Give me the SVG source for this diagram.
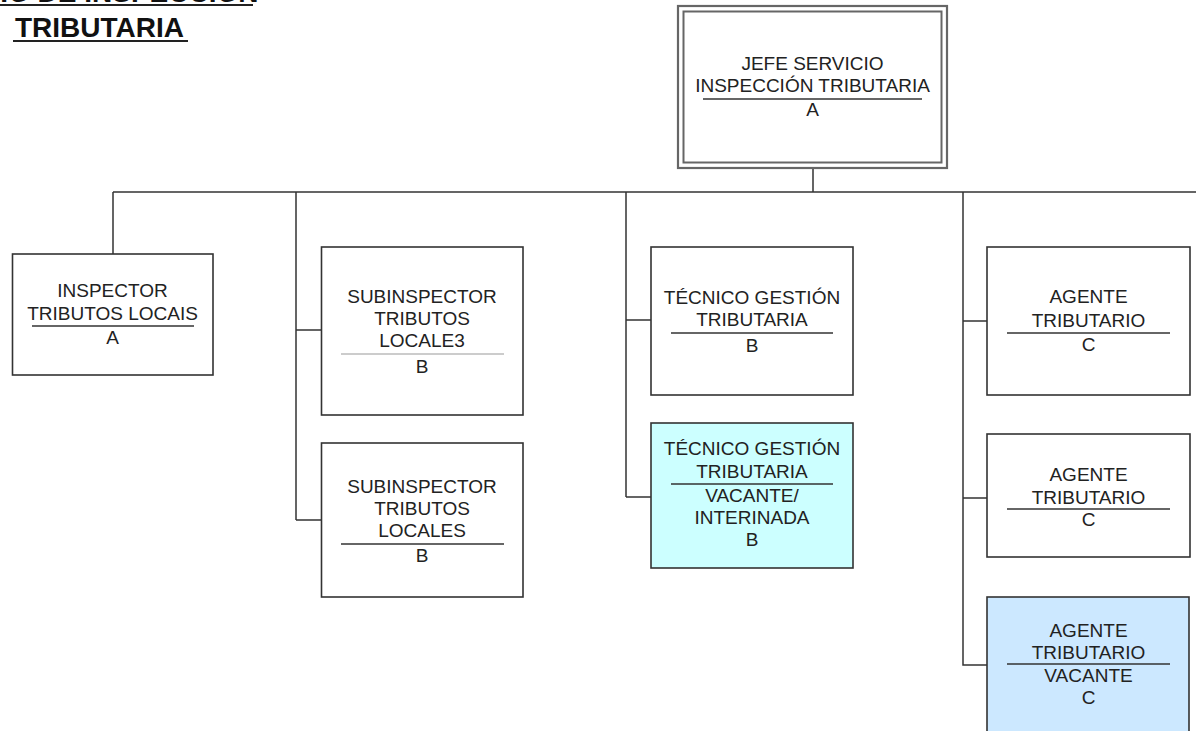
<svg xmlns="http://www.w3.org/2000/svg" width="1196" height="731" viewBox="0 0 1196 731">
<style>
.t{font-family:"Liberation Sans",Arial,sans-serif;font-size:19px;fill:#222;text-anchor:middle}
.title{font-family:"Liberation Sans",Arial,sans-serif;font-size:28px;font-weight:bold;fill:#111}
.box{fill:#fff;stroke:#333;stroke-width:1.6}
.ul{stroke:#333;stroke-width:1.6}
.conn{fill:none;stroke:#333;stroke-width:1.5}
</style>
<rect width="1196" height="731" fill="#fff"/>
<g id="title">
<text class="title" x="-20" y="2">CIO DE INSPECCIÓN</text>
<line x1="0" y1="5" x2="253" y2="5" stroke="#222" stroke-width="2"/>
<text class="title" x="15" y="37">TRIBUTARIA</text>
<line x1="13" y1="41" x2="188" y2="41" stroke="#222" stroke-width="2"/>
</g>
<g id="connectors">
<path class="conn" d="M813 168 V192 M113 192 H1196 M113 192 V254"/>
<path class="conn" d="M296 192 V520 M296 330 H321 M296 520 H321"/>
<path class="conn" d="M626 192 V497 M626 320 H651 M626 497 H651"/>
<path class="conn" d="M963 192 V665 H987 M963 321 H987 M963 498 H987"/>
</g>
<g id="jefe">
<rect x="678" y="6" width="269" height="162" fill="#fff" stroke="#666" stroke-width="2.2"/>
<rect x="683.5" y="11.5" width="258" height="151" fill="none" stroke="#666" stroke-width="2"/>
<text class="t" x="812.5" y="70">JEFE SERVICIO</text>
<text class="t" x="812.5" y="92">INSPECCIÓN TRIBUTARIA</text>
<line class="ul" x1="703" y1="99" x2="922" y2="99"/>
<text class="t" x="812.5" y="116">A</text>
</g>
<g id="inspector">
<rect class="box" x="12.5" y="254" width="200.5" height="121"/>
<text class="t" x="112.5" y="297">INSPECTOR</text>
<text class="t" x="112.5" y="320">TRIBUTOS LOCAIS</text>
<line class="ul" x1="32" y1="326" x2="194" y2="326"/>
<text class="t" x="112.5" y="344">A</text>
</g>
<g id="subinspector1">
<rect class="box" x="321.5" y="247" width="201.5" height="168"/>
<text class="t" x="422" y="303">SUBINSPECTOR</text>
<text class="t" x="422" y="325">TRIBUTOS</text>
<text class="t" x="422" y="347">LOCALE3</text>
<line x1="341" y1="354" x2="504" y2="354" stroke="#999" stroke-width="1.2"/>
<text class="t" x="422" y="373">B</text>
</g>
<g id="subinspector2">
<rect class="box" x="321.5" y="443" width="201.5" height="154"/>
<text class="t" x="422" y="493">SUBINSPECTOR</text>
<text class="t" x="422" y="515">TRIBUTOS</text>
<text class="t" x="422" y="537">LOCALES</text>
<line class="ul" x1="341" y1="544" x2="504" y2="544"/>
<text class="t" x="422" y="562">B</text>
</g>
<g id="tecnico1">
<rect class="box" x="651" y="247" width="202" height="148"/>
<text class="t" x="752" y="304">TÉCNICO GESTIÓN</text>
<text class="t" x="752" y="326">TRIBUTARIA</text>
<line class="ul" x1="671" y1="333" x2="833" y2="333"/>
<text class="t" x="752" y="352">B</text>
</g>
<g id="tecnico2">
<rect class="box" x="651" y="423" width="202" height="145" style="fill:#ccffff"/>
<text class="t" x="752" y="455">TÉCNICO GESTIÓN</text>
<text class="t" x="752" y="478">TRIBUTARIA</text>
<line class="ul" x1="671" y1="484" x2="833" y2="484"/>
<text class="t" x="752" y="502">VACANTE/</text>
<text class="t" x="752" y="524">INTERINADA</text>
<text class="t" x="752" y="546">B</text>
</g>
<g id="agente1">
<rect class="box" x="987" y="247" width="203" height="148"/>
<text class="t" x="1088.5" y="303">AGENTE</text>
<text class="t" x="1088.5" y="327">TRIBUTARIO</text>
<line class="ul" x1="1007" y1="333" x2="1170" y2="333"/>
<text class="t" x="1088.5" y="351">C</text>
</g>
<g id="agente2">
<rect class="box" x="987" y="434" width="203" height="123"/>
<text class="t" x="1088.5" y="481">AGENTE</text>
<text class="t" x="1088.5" y="504">TRIBUTARIO</text>
<line class="ul" x1="1007" y1="509" x2="1170" y2="509"/>
<text class="t" x="1088.5" y="526">C</text>
</g>
<g id="agente3">
<rect class="box" x="987" y="597" width="202" height="140" style="fill:#cce8ff"/>
<text class="t" x="1088.5" y="637">AGENTE</text>
<text class="t" x="1088.5" y="659">TRIBUTARIO</text>
<line class="ul" x1="1007" y1="664" x2="1170" y2="664"/>
<text class="t" x="1088.5" y="682">VACANTE</text>
<text class="t" x="1088.5" y="704">C</text>
</g>
</svg>
